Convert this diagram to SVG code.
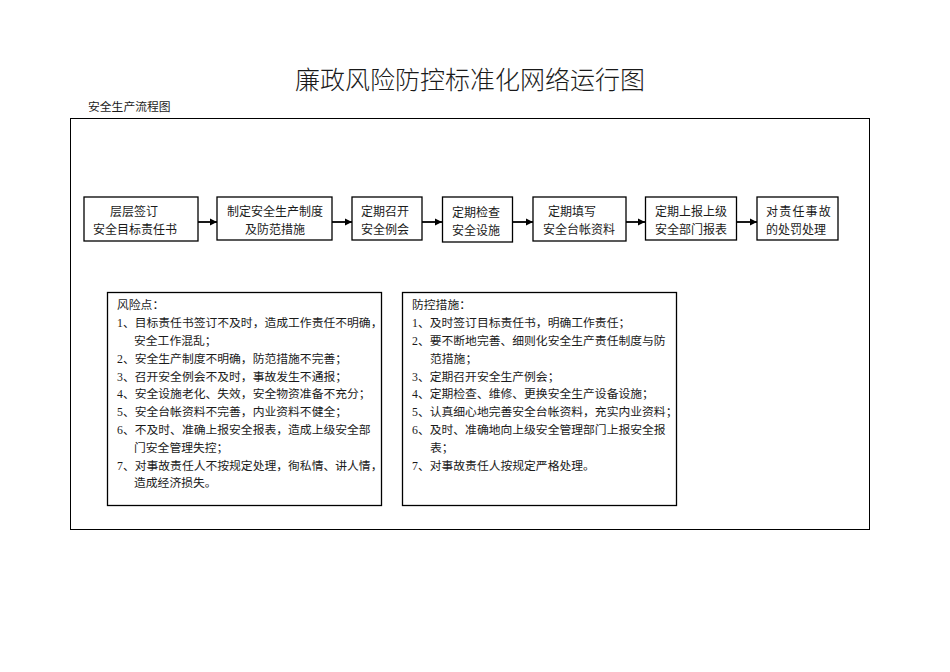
<svg xmlns="http://www.w3.org/2000/svg" width="950" height="672" viewBox="0 0 950 672">
<defs>
<style>
.t{font-family:"Liberation Serif","Noto Sans CJK SC",serif;fill:#1a1a1a}
.bx{fill:#fff;stroke:#000;stroke-width:1.3}
.bt{font-size:12px}
.lt{font-size:11.8px}
.cn{stroke:#000;stroke-width:1.8;fill:none}
</style>
<marker id="ah" markerUnits="userSpaceOnUse" markerWidth="8" markerHeight="8" refX="7" refY="4" orient="auto">
<path d="M0,0.5 L7,4 L0,7.5 Z" fill="#000"/>
</marker>
</defs>
<rect width="950" height="672" fill="#fff"/>
<text class="t" x="470" y="89" font-size="25" font-weight="300" text-anchor="middle">廉政风险防控标准化网络运行图</text>
<text class="t" x="88" y="111" font-size="11.8">安全生产流程图</text>
<rect x="70.5" y="118.5" width="799" height="411" fill="none" stroke="#000" stroke-width="1"/>

<g id="connectors">
<line class="cn" x1="198" y1="222" x2="217" y2="222" marker-end="url(#ah)"/>
<line class="cn" x1="332" y1="222" x2="352" y2="222" marker-end="url(#ah)"/>
<line class="cn" x1="422" y1="222" x2="442" y2="222" marker-end="url(#ah)"/>
<line class="cn" x1="513" y1="222" x2="533" y2="222" marker-end="url(#ah)"/>
<line class="cn" x1="626" y1="222" x2="645" y2="222" marker-end="url(#ah)"/>
<line class="cn" x1="736" y1="222" x2="757" y2="222" marker-end="url(#ah)"/>
</g>

<g id="n1">
<rect class="bx" x="84" y="197" width="114" height="44"/>
<text class="t bt" x="134" y="215.5" text-anchor="middle">层层签订</text>
<text class="t bt" x="135" y="233.5" text-anchor="middle">安全目标责任书</text>
</g>
<g id="n2">
<rect class="bx" x="217" y="197" width="115" height="43"/>
<text class="t bt" x="275" y="215.5" text-anchor="middle">制定安全生产制度</text>
<text class="t bt" x="275" y="233.5" text-anchor="middle">及防范措施</text>
</g>
<g id="n3">
<rect class="bx" x="352" y="197" width="70" height="43"/>
<text class="t bt" x="361" y="215.5">定期召开</text>
<text class="t bt" x="361" y="233.5">安全例会</text>
</g>
<g id="n4">
<rect class="bx" x="442.5" y="197" width="70" height="45"/>
<text class="t bt" x="452" y="216.5">定期检查</text>
<text class="t bt" x="452" y="235">安全设施</text>
</g>
<g id="n5">
<rect class="bx" x="533" y="197" width="93" height="44"/>
<text class="t bt" x="548" y="215.5">定期填写</text>
<text class="t bt" x="543" y="233.5">安全台帐资料</text>
</g>
<g id="n6">
<rect class="bx" x="645.5" y="197" width="91" height="43"/>
<text class="t bt" x="655" y="215.5">定期上报上级</text>
<text class="t bt" x="655" y="233.5">安全部门报表</text>
</g>
<g id="n7">
<rect class="bx" x="757" y="197" width="81" height="43"/>
<text class="t bt" x="766" y="215.5" letter-spacing="1.2">对责任事故</text>
<text class="t bt" x="766" y="233.5">的处罚处理</text>
</g>

<g id="risk">
<rect class="bx" x="107.5" y="292.5" width="274" height="213"/>
<text class="t lt" x="117" y="309.4">风险点：</text>
<text class="t lt" x="117" y="327.2">1、目标责任书签订不及时，造成工作责任不明确，</text>
<text class="t lt" x="134" y="345">安全工作混乱；</text>
<text class="t lt" x="117" y="362.8">2、安全生产制度不明确，防范措施不完善；</text>
<text class="t lt" x="117" y="380.6">3、召开安全例会不及时，事故发生不通报；</text>
<text class="t lt" x="117" y="398.4">4、安全设施老化、失效，安全物资准备不充分；</text>
<text class="t lt" x="117" y="416.2">5、安全台帐资料不完善，内业资料不健全；</text>
<text class="t lt" x="117" y="434">6、不及时、准确上报安全报表，造成上级安全部</text>
<text class="t lt" x="134" y="451.8">门安全管理失控；</text>
<text class="t lt" x="117" y="469.6">7、对事故责任人不按规定处理，徇私情、讲人情，</text>
<text class="t lt" x="134" y="487.4">造成经济损失。</text>
</g>

<g id="measures">
<rect class="bx" x="402.5" y="292.5" width="274" height="213"/>
<text class="t lt" x="412" y="309.4">防控措施：</text>
<text class="t lt" x="412" y="327.2">1、及时签订目标责任书，明确工作责任；</text>
<text class="t lt" x="412" y="345">2、要不断地完善、细则化安全生产责任制度与防</text>
<text class="t lt" x="430" y="362.8">范措施；</text>
<text class="t lt" x="412" y="380.6">3、定期召开安全生产例会；</text>
<text class="t lt" x="412" y="398.4">4、定期检查、维修、更换安全生产设备设施；</text>
<text class="t lt" x="412" y="416.2">5、认真细心地完善安全台帐资料，充实内业资料；</text>
<text class="t lt" x="412" y="434">6、及时、准确地向上级安全管理部门上报安全报</text>
<text class="t lt" x="430" y="451.8">表；</text>
<text class="t lt" x="412" y="469.6">7、对事故责任人按规定严格处理。</text>
</g>
</svg>
